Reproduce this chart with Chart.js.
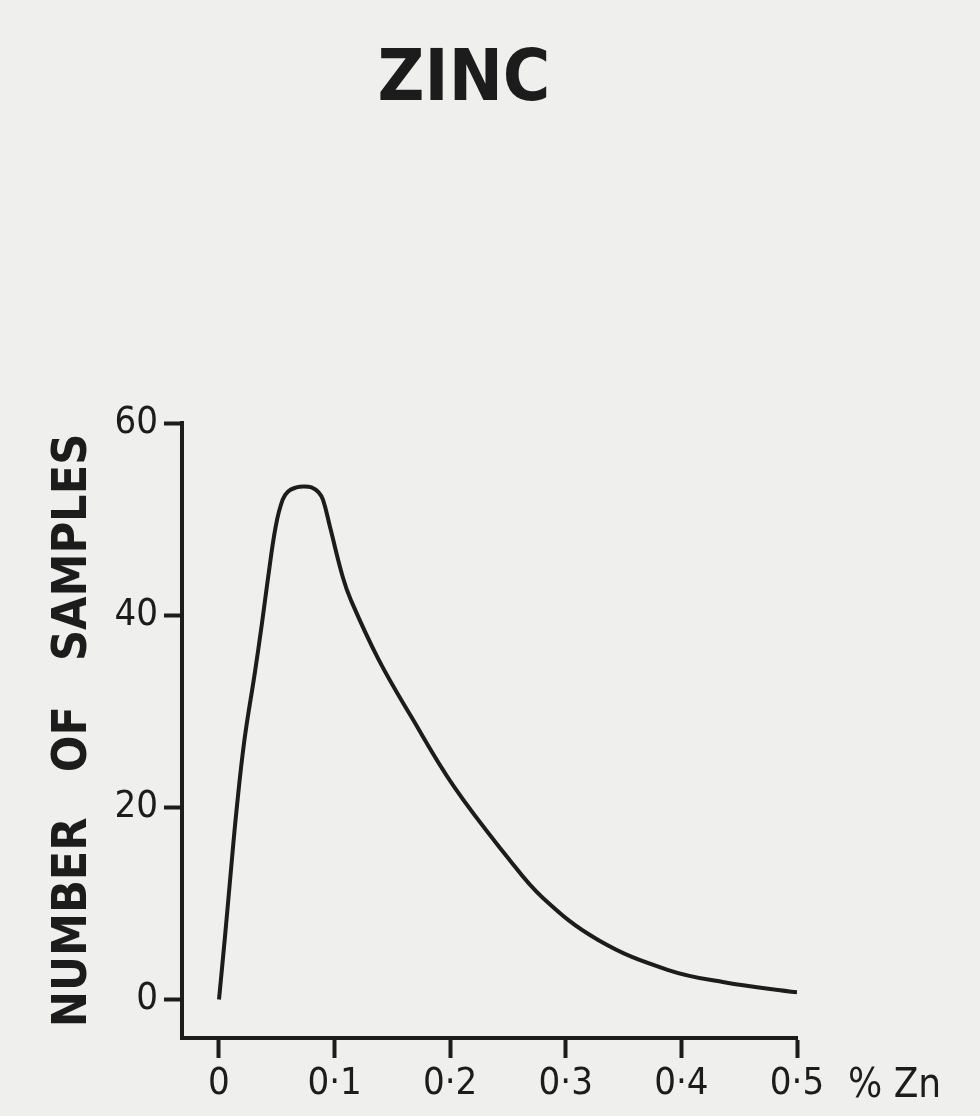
<!DOCTYPE html>
<html>
<head>
<meta charset="utf-8">
<title>Zinc</title>
<script src="https://cdn.jsdelivr.net/npm/chart.js@4"></script>
<style>
  html, body { margin: 0; padding: 0; background: #efefed; }
  #wrap { width: 980px; height: 1116px; }
</style>
</head>
<body>
<div id="wrap"><canvas id="graficoZinco" width="980" height="1116"></canvas></div>
<script>
// values
var zincPct = [0, 0.005, 0.01, 0.015, 0.022, 0.031, 0.037, 0.042, 0.049, 0.055,
  0.06, 0.067, 0.073, 0.08, 0.086, 0.09, 0.096, 0.107, 0.114, 0.138,
  0.166, 0.203, 0.249, 0.28, 0.328, 0.388, 0.437, 0.5];
var samples = [0, 6.3, 13, 19.5, 27, 34, 39, 43.5, 49.2, 52,
  52.9, 53.3, 53.4, 53.3, 52.8, 52, 49.2, 44, 41.6, 35.4,
  29.5, 22.2, 14.9, 10.6, 6.2, 3.1, 1.8, 0.75];

var xTicks = [0, 0.1, 0.2, 0.3, 0.4, 0.5];
var xTickLabels = ["0", "0·1", "0·2", "0·3", "0·4", "0·5"];
var yTicks = [0, 20, 40, 60];
var yTickLabels = ["0", "20", "40", "60"];

var ink = "#1c1c1c";
var tickFont = { family: "'DejaVu Sans Condensed', 'DejaVu Sans'", size: 38 };

var textos = {
  id: "textos",
  beforeDraw: function (chart) {
    var c = chart.ctx;
    c.save();
    c.fillStyle = "#efefed";
    c.fillRect(0, 0, chart.width, chart.height);
    c.restore();
  },
  afterDraw: function (chart) {
    var c = chart.ctx;
    c.save();
    c.fillStyle = ink;
    c.textAlign = "center";
    c.textBaseline = "alphabetic";
    c.font = "bold 72px 'DejaVu Sans Condensed', 'DejaVu Sans'";
    c.fillText("ZINC", 464, 100);
    c.textAlign = "left";
    c.font = "40px 'DejaVu Sans Condensed', 'DejaVu Sans'";
    c.fillText("% Zn", 848, 1097);
    c.restore();
  }
};

document.addEventListener("DOMContentLoaded", function () {
  var ctx = document.getElementById("graficoZinco").getContext("2d");
  var pontos = zincPct.map(function (x, i) { return { x: x, y: samples[i] }; });
  var graficoZinco = new Chart(ctx, {
    type: "scatter",
    data: {
      datasets: [
        {
          label: "Zinc",
          data: pontos,
          showLine: true,
          borderColor: ink,
          borderWidth: 4,
          pointRadius: 0,
          tension: 0.4,
          fill: false,
        },
      ],
    },
    options: {
      responsive: false,
      animation: false,
      layout: { padding: { top: 423, right: 183, left: 0, bottom: 0 } },
      plugins: {
        legend: { display: false },
        tooltip: { enabled: false },
      },
      scales: {
        x: {
          type: "linear",
          min: -0.032,
          max: 0.5,
          afterBuildTicks: function (scale) {
            scale.ticks = xTicks.map(function (v) { return { value: v }; });
          },
          afterFit: function (scale) { scale.height = 78; },
          ticks: {
            color: ink,
            font: tickFont,
            padding: 3,
            maxRotation: 0,
            callback: function (v, i) { return xTickLabels[i]; },
          },
          grid: {
            drawOnChartArea: false,
            tickLength: 20,
            tickWidth: 4,
            tickColor: ink,
          },
          border: { display: true, color: ink, width: 4 },
        },
        y: {
          min: -4,
          max: 60,
          afterBuildTicks: function (scale) {
            scale.ticks = yTicks.map(function (v) { return { value: v }; });
          },
          afterFit: function (scale) { scale.width = 182; },
          ticks: {
            color: ink,
            font: tickFont,
            padding: 6,
            callback: function (v, i) { return yTickLabels[i]; },
          },
          grid: {
            drawOnChartArea: false,
            tickLength: 18,
            tickWidth: 4,
            tickColor: ink,
          },
          border: { display: true, color: ink, width: 4 },
          title: {
            display: true,
            text: "NUMBER   OF   SAMPLES",
            color: ink,
            font: { family: "'DejaVu Sans Condensed', 'DejaVu Sans'", size: 48, weight: "bold" },
            padding: { top: 45, bottom: 0 },
          },
        },
      },
    },
    plugins: [textos],
  });
});
</script>
</body>
</html>
